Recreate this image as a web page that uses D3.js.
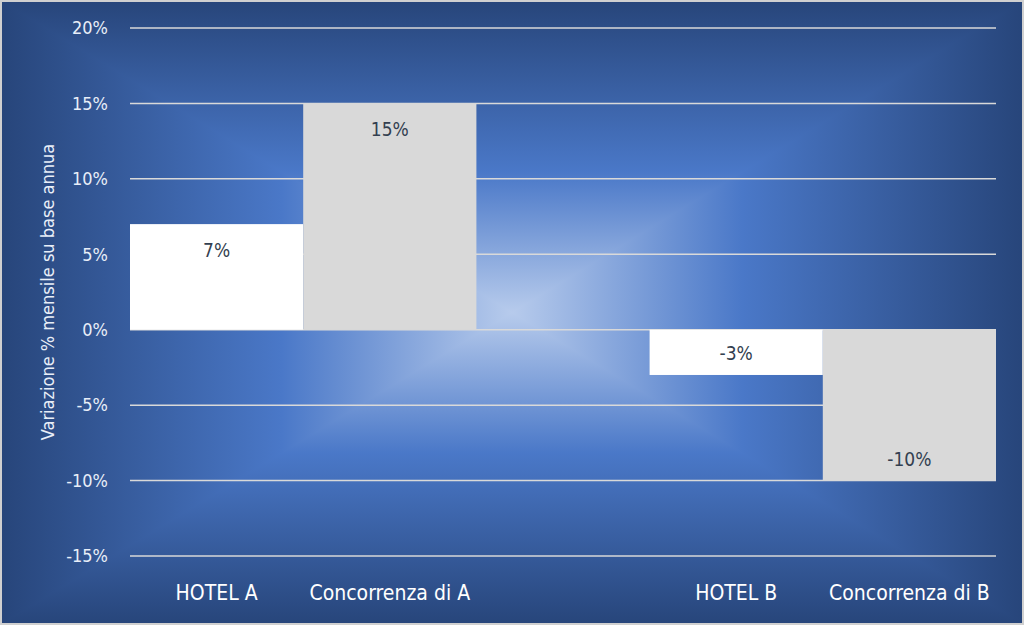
<!DOCTYPE html>
<html lang="it">
<head>
<meta charset="UTF-8">
<title>Variazione % mensile su base annua</title>
<script src="https://d3js.org/d3.v7.min.js"></script>
<style>
    html, body { margin: 0; padding: 0; background: #fff; }
    svg { display: block; font-family: "Liberation Sans Narrow", "DejaVu Sans Condensed", sans-serif; }
</style>
</head>
<body>
<svg width="1024" height="625"></svg>
<script>
    // data
    const categories = ["HOTEL A", "Concorrenza di A", "", "HOTEL B", "Concorrenza di B"];
    const values = [7, 15, null, -3, -10];
    const barColors = ["#ffffff", "#d9d9d9", null, "#ffffff", "#d9d9d9"];
    const yTicks = [-15, -10, -5, 0, 5, 10, 15, 20];
    const yTitle = "Variazione % mensile su base annua";

    const svg = d3.select("svg"),
          width = +svg.attr("width"),
          height = +svg.attr("height");

    const margin = {left: 130, right: 28, top: 28, bottom: 69};

    // rectangular ("path") background gradient:
    // left/right halves first, then top/bottom triangles over them
    const defs = svg.append("defs");
    const cx = width / 2, cy = height / 2;
    const stops = [[0, "#b7cbec"], [0.45, "#4a78c8"], [1, "#27457a"]];
    const sides = [
        {id: "gL", x2: 0, y2: cy, pts: [[0, 0], [cx + 1, 0], [cx + 1, height], [0, height]]},
        {id: "gR", x2: width, y2: cy, pts: [[cx - 1, 0], [width, 0], [width, height], [cx - 1, height]]},
        {id: "gT", x2: cx, y2: 0, pts: [[0, 0], [width, 0], [cx, cy]]},
        {id: "gB", x2: cx, y2: height, pts: [[0, height], [width, height], [cx, cy]]}
    ];
    sides.forEach(s => {
        const g = defs.append("linearGradient")
            .attr("id", s.id)
            .attr("gradientUnits", "userSpaceOnUse")
            .attr("x1", cx).attr("y1", cy)
            .attr("x2", s.x2).attr("y2", s.y2);
        stops.forEach(st => g.append("stop").attr("offset", st[0]).attr("stop-color", st[1]));
        svg.append("polygon")
            .attr("points", s.pts.map(p => p.join(",")).join(" "))
            .attr("fill", `url(#${s.id})`);
    });

    // outer border
    svg.append("rect")
        .attr("x", 1).attr("y", 1)
        .attr("width", width - 2).attr("height", height - 2)
        .attr("fill", "none")
        .attr("stroke", "#d0d0d0")
        .attr("stroke-width", 2);

    const x = d3.scaleBand()
        .domain(d3.range(categories.length))
        .range([margin.left, width - margin.right])
        .padding(0);

    const y = d3.scaleLinear()
        .domain([-15, 20])
        .range([height - margin.bottom, margin.top]);

    // gridlines
    svg.append("g")
        .selectAll("line")
        .data(yTicks)
        .join("line")
        .attr("x1", margin.left)
        .attr("x2", width - margin.right)
        .attr("y1", d => y(d))
        .attr("y2", d => y(d))
        .attr("stroke", "#d9d9d9")
        .attr("stroke-width", 1.5);

    // y tick labels
    svg.append("g")
        .selectAll("text")
        .data(yTicks)
        .join("text")
        .attr("x", 108)
        .attr("y", d => y(d))
        .attr("dy", "0.35em")
        .attr("text-anchor", "end")
        .attr("fill", "#e8eef8")
        .attr("font-size", 18)
        .text(d => d + "%");

    // y title
    svg.append("text")
        .attr("transform", `translate(54, ${(y(20) + y(-15)) / 2}) rotate(-90)`)
        .attr("text-anchor", "middle")
        .attr("fill", "#e8eef8")
        .attr("font-size", 18)
        .text(yTitle);

    const data = categories.map((c, i) => ({cat: c, i: i, v: values[i], color: barColors[i]}))
        .filter(d => d.v !== null);

    // bars
    svg.append("g")
        .selectAll("rect")
        .data(data)
        .join("rect")
        .attr("x", d => x(d.i))
        .attr("width", x.bandwidth())
        .attr("y", d => y(Math.max(0, d.v)))
        .attr("height", d => Math.abs(y(d.v) - y(0)))
        .attr("fill", d => d.color);

    // value labels (inside end)
    svg.append("g")
        .selectAll("text")
        .data(data)
        .join("text")
        .attr("x", d => x(d.i) + x.bandwidth() / 2)
        .attr("y", d => d.v >= 0 ? y(d.v) + 33 : y(d.v) - 15)
        .attr("text-anchor", "middle")
        .attr("fill", "#333f50")
        .attr("font-size", 19)
        .text(d => d.v + "%");

    // category labels
    svg.append("g")
        .selectAll("text")
        .data(categories.map((c, i) => ({c, i})).filter(d => d.c))
        .join("text")
        .attr("x", d => x(d.i) + x.bandwidth() / 2)
        .attr("y", 600)
        .attr("text-anchor", "middle")
        .attr("fill", "#ffffff")
        .attr("font-size", 21)
        .text(d => d.c);
</script>
</body>
</html>
